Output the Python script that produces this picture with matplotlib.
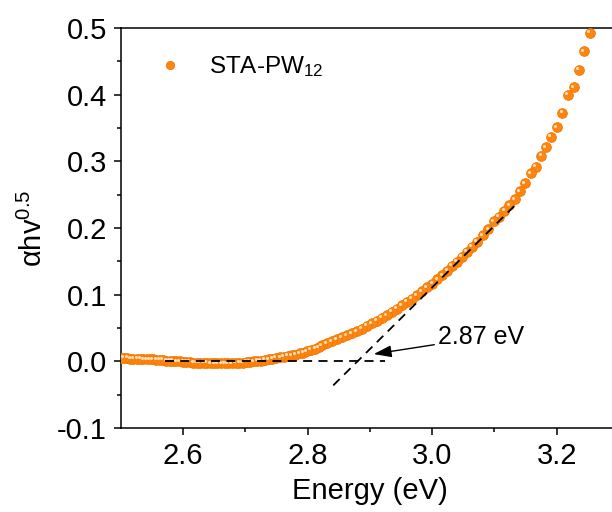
import numpy as np
import matplotlib
matplotlib.use("Agg")
import matplotlib.pyplot as plt
from matplotlib.transforms import ScaledTranslation

plt.rcParams['font.family'] = ['Liberation Sans', 'DejaVu Sans']
plt.rcParams['mathtext.fontset'] = 'custom'
plt.rcParams['mathtext.rm'] = 'Liberation Sans'
plt.rcParams['mathtext.it'] = 'Liberation Sans:italic'

# photon energy (eV) and alpha*h*nu^0.5
energy = [
    3.253, 3.244, 3.235, 3.227, 3.218, 3.209, 3.200, 3.191, 3.183, 3.175,
    3.166, 3.158, 3.149, 3.141, 3.133, 3.124, 3.116, 3.107, 3.099, 3.090,
    3.081, 3.072, 3.064, 3.056, 3.048, 3.040, 3.032, 3.024, 3.016, 3.008,
    3.000, 2.991, 2.983, 2.975, 2.967, 2.959, 2.951, 2.943, 2.935, 2.927,
    2.919, 2.911, 2.903, 2.895, 2.887, 2.879, 2.871, 2.863, 2.855, 2.847,
    2.839, 2.831, 2.823, 2.818, 2.812, 2.805, 2.799, 2.793, 2.787, 2.780,
    2.774, 2.768, 2.762, 2.756, 2.749, 2.743, 2.737, 2.731, 2.725, 2.719,
    2.713, 2.707, 2.702, 2.696, 2.690, 2.684, 2.678, 2.672, 2.667, 2.661,
    2.655, 2.650, 2.644, 2.638, 2.633, 2.627, 2.622, 2.616, 2.611, 2.605,
    2.600, 2.594, 2.589, 2.583, 2.578, 2.573, 2.567, 2.562, 2.557, 2.551,
    2.546, 2.541, 2.536, 2.531, 2.526, 2.520, 2.515, 2.510, 2.505, 2.500,
]
absorb = [
    0.493, 0.465, 0.437, 0.411, 0.400, 0.373, 0.351, 0.337, 0.321, 0.308,
    0.292, 0.282, 0.267, 0.255, 0.243, 0.234, 0.226, 0.217, 0.210, 0.198,
    0.189, 0.179, 0.172, 0.164, 0.157, 0.149, 0.143, 0.136, 0.129, 0.123,
    0.116, 0.111, 0.105, 0.099, 0.094, 0.089, 0.084, 0.079, 0.074, 0.069,
    0.065, 0.061, 0.057, 0.053, 0.049, 0.045, 0.042, 0.039, 0.036, 0.033,
    0.030, 0.027, 0.024, 0.021, 0.019, 0.017, 0.015, 0.013, 0.012, 0.010,
    0.009, 0.008, 0.007, 0.006, 0.005, 0.004, 0.003, 0.002, 0.001, 0.001,
    0.000, -0.001, -0.001, -0.002, -0.002, -0.002, -0.003, -0.003, -0.003, -0.003,
    -0.003, -0.003, -0.003, -0.002, -0.002, -0.002, -0.002, -0.002, -0.001, -0.001,
    -0.001, 0.000, 0.000, 0.001, 0.001, 0.001, 0.002, 0.002, 0.002, 0.003,
    0.003, 0.003, 0.003, 0.004, 0.004, 0.004, 0.004, 0.005, 0.005, 0.005,
]

# fitted lines
base_x = [2.571, 2.924]
base_y = [0.0, 0.0]
tangent_x = [2.841, 3.136]
tangent_y = [-0.036, 0.237]

gap_label = '2.87 eV'
series_label = 'STA-PW$_{12}$'

fig = plt.figure(figsize=(6.12, 5.12), dpi=100)
ax = fig.add_axes([0.1977, 0.164, 0.8137, 0.781])

ax.plot(energy, absorb, 'o', ms=7, mfc='#FF8510', mec='#F07800', mew=0.6,
        label=series_label, zorder=3)
# little highlight on each ball
shift = ScaledTranslation(-1.2 / 72, 1.2 / 72, fig.dpi_scale_trans)
ax.plot(energy, absorb, 'o', ms=2.2, mfc='#FFE0BC', mec='none',
        transform=ax.transData + shift, zorder=4)

ax.plot(base_x, base_y, color='black', lw=1.3, ls=(0, (5, 3.5)), zorder=5)
ax.plot(tangent_x, tangent_y, color='black', lw=1.3, ls=(0, (5, 3.5)), zorder=5)

ax.annotate(gap_label, xy=(2.906, 0.011), xytext=(3.010, 0.036),
            fontsize=18, va='center', ha='left',
            arrowprops=dict(arrowstyle='-|>,head_length=0.6,head_width=0.2',
                            color='black', lw=1.0, shrinkA=1, shrinkB=0))

ax.set_xlim(2.5, 3.3)
ax.set_ylim(-0.1, 0.5)
ax.set_xticks([2.6, 2.8, 3.0, 3.2])
ax.set_xticks([2.7, 2.9, 3.1], minor=True)
ax.set_yticks([-0.1, 0.0, 0.1, 0.2, 0.3, 0.4, 0.5])
ax.set_yticks([-0.05, 0.05, 0.15, 0.25, 0.35, 0.45], minor=True)
ax.set_xticklabels(['2.6', '2.8', '3.0', '3.2'])
ax.set_yticklabels(['-0.1', '0.0', '0.1', '0.2', '0.3', '0.4', '0.5'])

ax.tick_params(which='both', direction='out', width=1.1, labelsize=21, pad=5)
ax.tick_params(which='major', length=5)
ax.tick_params(which='minor', length=3)
for s in ax.spines.values():
    s.set_linewidth(1.1)

ax.set_xlabel('Energy (eV)', fontsize=21, labelpad=5)
ax.set_ylabel('αhv$^{0.5}$', fontsize=21, labelpad=7)

leg = ax.legend(loc='upper left', bbox_to_anchor=(0.03, 0.99), frameon=False,
                fontsize=17.5, handlelength=1.0, handletextpad=1.1, markerscale=0.85)

fig.savefig('out.png', dpi=100)
